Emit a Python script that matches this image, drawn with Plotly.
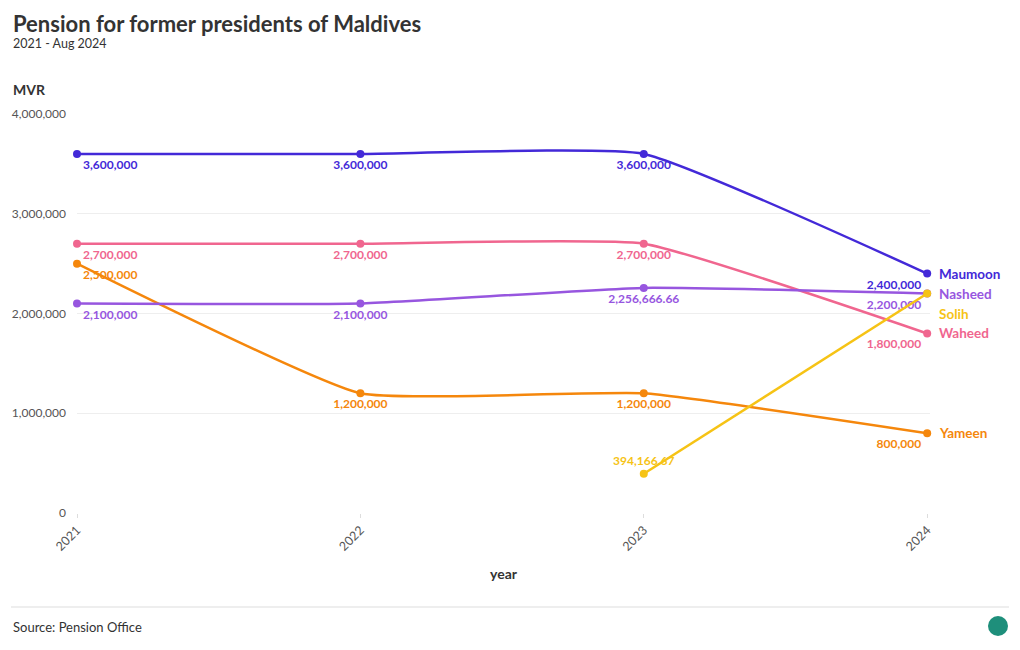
import plotly.graph_objects as go

years = [2021, 2022, 2023, 2024]
names = ["Maumoon", "Nasheed", "Solih", "Waheed", "Yameen"]
maumoon = [3600000, 3600000, 3600000, 2400000]
nasheed = [2100000, 2100000, 2256666.66, 2200000]
waheed = [2700000, 2700000, 2700000, 1800000]
yameen = [2500000, 1200000, 1200000, 800000]
solih_years = [2023, 2024]
solih = [394166.67, 2200000]
y_ticks = [0, 1000000, 2000000, 3000000, 4000000]
y_ticktext = ["0", "1,000,000", "2,000,000", "3,000,000", "4,000,000"]

colors = {
    "Maumoon": "#4329d8",
    "Nasheed": "#9756df",
    "Solih": "#f6c315",
    "Waheed": "#f0668f",
    "Yameen": "#f5870c",
}

FONT = "Lato"

# page body has an 8px margin; lay out in screen pixels and compensate
OFF = 8
W, H = 1020 - OFF, 650 - OFF
pl, pt = 77 - OFF, 114 - OFF
pr = W - (930 - OFF)
pb = H - (513 - OFF)
pw, ph = W - pl - pr, H - pt - pb


def px(x):
    return (x - OFF - pl) / pw


def py(y):
    return (H - pb - (y - OFF)) / ph


def fmt(v):
    if abs(v - round(v)) < 1e-9:
        return f"{int(round(v)):,}"
    return f"{v:,.2f}"


fig = go.Figure()


def add_series(name, xs, ys, positions, show):
    texts = [fmt(v) if s else "" for v, s in zip(ys, show)]
    fig.add_trace(go.Scatter(
        x=xs, y=ys, name=name, mode="lines+markers+text",
        line=dict(color=colors[name], width=2.5, shape="spline", smoothing=0.4),
        marker=dict(color=colors[name], size=8),
        text=texts, textposition=positions,
        textfont=dict(family=FONT, size=12, color=colors[name], weight="bold"),
        cliponaxis=False, showlegend=False,
    ))


std_pos = ["bottom right", "bottom center", "bottom center", "bottom left"]
add_series("Waheed", years, waheed, std_pos, [True] * 4)
add_series("Yameen", years, yameen, std_pos, [True] * 4)
add_series("Nasheed", years, nasheed, std_pos, [True] * 4)
add_series("Maumoon", years, maumoon, std_pos, [True] * 4)
add_series("Solih", solih_years, solih, ["top center", "bottom left"], [True, False])

# end labels
end_vals = {"Maumoon": maumoon[-1], "Nasheed": nasheed[-1], "Solih": solih[-1],
            "Waheed": waheed[-1], "Yameen": yameen[-1]}
label_shift = {"Maumoon": 0, "Nasheed": 0, "Solih": -20, "Waheed": 0, "Yameen": 0}
for n in names:
    fig.add_annotation(
        x=2024, y=end_vals[n], xref="x", yref="y", text=f"<b>{n}</b>",
        showarrow=False, xanchor="left", yanchor="middle", xshift=10,
        yshift=label_shift[n],
        font=dict(family=FONT, size=13.5, color=colors[n]),
    )
    if n in ("Maumoon", "Waheed", "Yameen"):
        fig.add_shape(type="line", xref="x", yref="y", xsizemode="pixel",
                      xanchor=2024, x0=6, x1=9, y0=end_vals[n], y1=end_vals[n],
                      line=dict(color="#bbbbbb", width=1))

# bracket for Nasheed / Solih
fig.add_shape(type="line", xref="x", yref="y", xsizemode="pixel", ysizemode="pixel",
              xanchor=2024, yanchor=nasheed[-1], x0=7, x1=7, y0=-1, y1=-21,
              line=dict(color="#bbbbbb", width=1))
fig.add_shape(type="line", xref="x", yref="y", xsizemode="pixel", ysizemode="pixel",
              xanchor=2024, yanchor=nasheed[-1], x0=7, x1=10, y0=-1, y1=-1,
              line=dict(color="#bbbbbb", width=1))

fig.update_layout(
    width=W, height=H,
    margin=dict(l=pl, r=pr, t=pt, b=pb, autoexpand=False),
    paper_bgcolor="white", plot_bgcolor="white",
    font=dict(family=FONT, color="#333333"),
    xaxis=dict(
        range=[2021, 2024.01], tickvals=years, ticktext=[str(y) for y in years],
        tickangle=-45, showgrid=False, zeroline=False, showline=False,
        ticks="outside", ticklen=4, tickcolor="#dddddd", automargin=False,
        tickfont=dict(family=FONT, size=12.5, color="#555555"),
        title=dict(text="<b>year</b>", font=dict(family=FONT, size=14, color="#333333"),
                   standoff=16),
    ),
    yaxis=dict(
        range=[0, 4000000], tickvals=y_ticks, ticktext=y_ticktext,
        showgrid=True, gridcolor="#eeeeee", gridwidth=1, zeroline=False,
        showline=False, ticks="", ticklabelstandoff=10, automargin=False,
        tickfont=dict(family=FONT, size=12, color="#555555"),
    ),
)

fig.add_annotation(text="<b>Pension for former presidents of Maldives</b>", x=px(11), y=py(24),
                   xref="paper", yref="paper", xanchor="left", yanchor="middle",
                   showarrow=False, font=dict(family=FONT, size=22, color="#333333"))
fig.add_annotation(text="2021 - Aug 2024", x=px(11), y=py(44), xref="paper", yref="paper",
                   xanchor="left", yanchor="middle", showarrow=False,
                   font=dict(family=FONT, size=12.5, color="#333333"))
fig.add_annotation(text="<b>MVR</b>", x=px(11), y=py(89), xref="paper", yref="paper",
                   xanchor="left", yanchor="middle", showarrow=False,
                   font=dict(family=FONT, size=14, color="#333333"))
fig.add_annotation(text="Source: Pension Office", x=px(11), y=py(627), xref="paper",
                   yref="paper", xanchor="left", yanchor="middle", showarrow=False,
                   font=dict(family=FONT, size=13, color="#333333"))
fig.add_shape(type="line", xref="paper", yref="paper", x0=px(11), x1=px(1009),
              y0=py(607), y1=py(607), line=dict(color="#dddddd", width=1))
fig.add_shape(type="circle", xref="paper", yref="paper", x0=px(988), x1=px(1008),
              y0=py(636), y1=py(616), fillcolor="#1e8f7b", line=dict(width=0))

fig.write_html("out.html")
